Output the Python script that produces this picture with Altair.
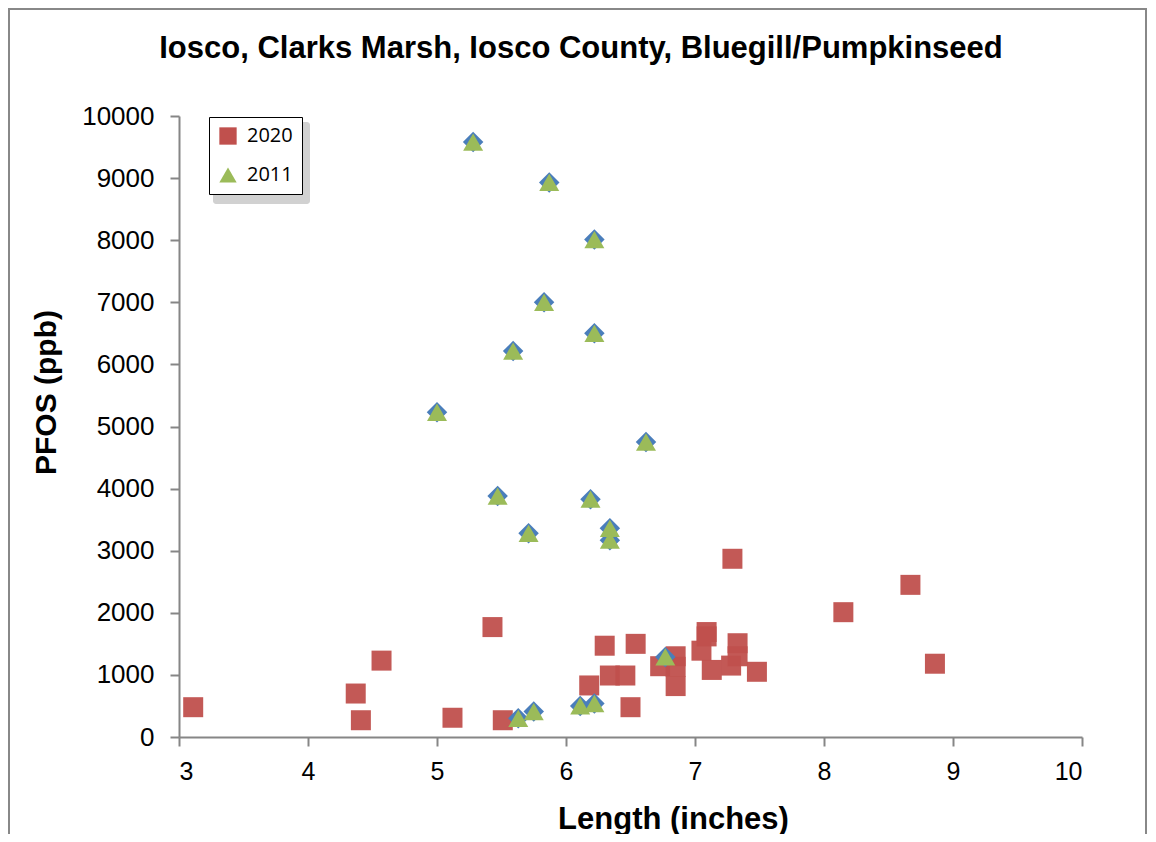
import altair as alt
import pandas as pd

# ---- data ----
len_2020 = [3.11, 4.37, 4.41, 4.57, 5.12, 5.43, 5.51, 6.18, 6.30, 6.34, 6.46, 6.50,
            6.54, 6.73, 6.85, 6.85, 6.85, 7.05, 7.09, 7.09, 7.13, 7.28, 7.29, 7.33,
            7.33, 7.48, 8.15, 8.67, 8.86]
pfos_2020 = [480, 700, 270, 1230, 310, 1770, 270, 830, 1470, 990, 990, 480,
             1500, 1140, 1300, 1130, 820, 1390, 1690, 1620, 1080, 1150, 2870, 1510,
             1300, 1050, 2010, 2450, 1180]

len_2011 = [5.28, 5.87, 6.22, 5.83, 6.22, 5.59, 5.00, 6.62, 5.47, 6.19, 6.34, 6.34,
            5.71, 6.77, 5.63, 5.75, 6.11, 6.22]
pfos_2011 = [9580, 8930, 8010, 7000, 6500, 6215, 5230, 4750, 3880, 3830, 3360, 3170,
             3280, 1290, 300, 410, 500, 540]

series_names = ["2020", "2011"]
series_colors = ["#C0504D", "#9BBB59"]
series_shapes = ["square", "triangle-up"]
x_ticks = [3, 4, 5, 6, 7, 8, 9, 10]
y_ticks = [0, 1000, 2000, 3000, 4000, 5000, 6000, 7000, 8000, 9000, 10000]
title_text = "Iosco, Clarks Marsh, Iosco County, Bluegill/Pumpkinseed"

df = pd.concat([
    pd.DataFrame({"length": len_2020, "pfos": pfos_2020, "series": "2020"}),
    pd.DataFrame({"length": len_2011, "pfos": pfos_2011, "series": "2011"}),
], ignore_index=True)

REG = "Liberation Sans"

x_enc = alt.X("length:Q",
              scale=alt.Scale(domain=[3, 10], nice=False, zero=False),
              axis=alt.Axis(values=x_ticks, format="d", title="Length (inches)",
                            labelFont=REG, labelFontSize=25, labelPadding=13,
                            titleFont=REG, titleFontSize=31, titleFontWeight="bold",
                            titleX=494, titleY=67, titleBaseline="top"))
y_enc = alt.Y("pfos:Q",
              scale=alt.Scale(domain=[0, 10000], nice=False),
              axis=alt.Axis(values=y_ticks, format="d", title="PFOS (ppb)",
                            labelFont=REG, labelFontSize=26, labelPadding=16,
                            titleFont=REG, titleFontSize=30, titleFontWeight="bold",
                            titleX=-118, titleY=276, titleBaseline="bottom"))

legend_params = dict(title=None, orient="none", legendX=30, legendY=1,
                     strokeColor="black", fillColor="white",
                     padding=9, labelFont="Open Sans",
                     labelFontSize=20, labelColor="black",
                     symbolSize=300, rowPadding=19, labelOffset=9,
                     symbolStrokeWidth=0, symbolOpacity=1)
color_enc = alt.Color("series:N",
                      scale=alt.Scale(domain=series_names, range=series_colors),
                      legend=alt.Legend(**legend_params))
shape_enc = alt.Shape("series:N",
                      scale=alt.Scale(domain=series_names, range=series_shapes),
                      legend=alt.Legend(**legend_params))

base = alt.Chart(df)
one = pd.DataFrame({"a": [0]})

# outer chart border (decoration)
border = alt.Chart(one).mark_rect(
    fill="white", fillOpacity=0, stroke="#888888", strokeWidth=2
).encode(x=alt.value(-170), x2=alt.value(967), y=alt.value(-107), y2=alt.value(740))

# chart title as a text mark (kept centred on the whole figure)
title = alt.Chart(one).mark_text(
    font=REG, fontSize=31, fontWeight="bold", color="black",
    align="center", baseline="alphabetic"
).encode(x=alt.value(402), y=alt.value(-58), text=alt.value(title_text))

# legend drop shadow (decoration)
shadow = alt.Chart(one).mark_rect(
    fill="#9a9a9a", opacity=0.45, cornerRadius=3
).encode(x=alt.value(34), x2=alt.value(131), y=alt.value(6), y2=alt.value(88))

squares = base.transform_filter(alt.datum.series == "2020").mark_point(
    filled=True, size=400, opacity=0.95
).encode(x=x_enc, y=y_enc, color=color_enc, shape=shape_enc)

diamonds = base.transform_filter(alt.datum.series == "2011").mark_point(
    filled=True, shape="diamond", size=420, color="#4A7EBB", opacity=1
).encode(x=x_enc, y=y_enc)

triangles = base.transform_filter(alt.datum.series == "2011").mark_point(
    filled=True, size=400, opacity=1
).encode(x=x_enc, y=y_enc, color=color_enc, shape=shape_enc)

chart = alt.layer(border, title, shadow, squares, diamonds, triangles).properties(
    width=903, height=621,
    autosize=alt.AutoSizeParams(type="none"),
    padding={"left": 171, "top": 108, "right": 66, "bottom": 97},
).configure_view(strokeWidth=0).configure_axis(
    domainColor="#868686", domainWidth=2, tickColor="#868686", tickWidth=2,
    tickSize=9, grid=False, labelColor="black", titleColor="black"
)

chart.save("out.html", embed_options={"renderer": "svg", "actions": False})
